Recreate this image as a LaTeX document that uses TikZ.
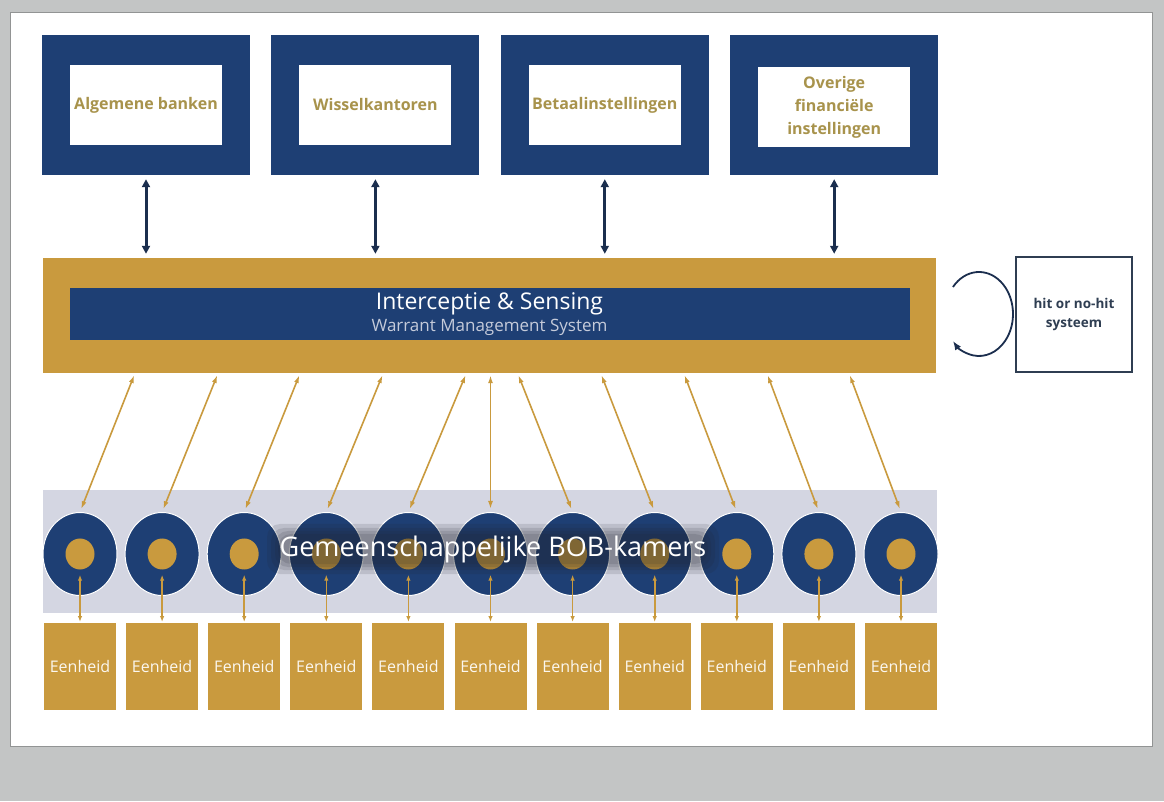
\documentclass[tikz,border=0pt]{standalone}
\usepackage{fontspec}
\setmainfont{Open Sans}
\usepackage{tikz}
\usetikzlibrary{arrows.meta, calc, positioning, shapes.geometric}
\definecolor{myblue}{HTML}{1E3F74}
\definecolor{mygold}{HTML}{C99A3E}
\definecolor{mytext}{HTML}{A8934C}
\definecolor{myband}{HTML}{D4D6E2}
\definecolor{myarrow}{HTML}{1B2E4E}
\definecolor{mylight}{HTML}{C5CBDA}
\definecolor{myhit}{HTML}{2F3E52}
\definecolor{mybg}{HTML}{C3C5C5}
\definecolor{myhalo}{HTML}{20232B}
\tikzset{ x=1pt, y=1pt, >=Latex,
  Bx/.style={fill=myblue, minimum width=208pt, minimum height=140pt, inner sep=0pt},
  Bi/.style={fill=white, minimum width=152pt, minimum height=80pt, inner sep=0pt, align=center, text=mytext, font=\bfseries\fontsize{16}{23}\selectfont},
  Ab/.style={draw=myarrow, line width=3pt, {Triangle[length=8pt,width=8pt]}-{Triangle[length=8pt,width=8pt]}, shorten <=4pt, shorten >=4pt},
  Ao/.style={draw=mygold, line width=1.6pt, {Latex[length=8pt,width=5pt]}-{Latex[length=8pt,width=5pt]}, shorten <=2pt, shorten >=3pt},
  As/.style={draw=mygold, line width=1.6pt, {Latex[length=6pt,width=4.5pt]}-{Latex[length=6pt,width=4.5pt]}, shorten <=5pt, shorten >=1pt},
  Lp/.style={draw=myarrow, line width=1.8pt, -{Latex[length=9pt,width=7pt]}},
  Ck/.style={ellipse, fill=myblue, draw=white, line width=1pt, minimum width=74pt, minimum height=83pt, inner sep=0pt},
  Cd/.style={ellipse, fill=mygold, minimum width=29pt, minimum height=31pt, inner sep=0pt},
  Ue/.style={fill=mygold, minimum width=72pt, minimum height=87pt, inner sep=0pt, text=white!92!mygold, font=\fontsize{16}{18}\selectfont},
  Bt/.style={text=white, font=\fontsize{27}{30}\selectfont, inner sep=0pt},
  Hl/.style={fill=myhalo, opacity=0.13, rounded corners=13pt} }
\def\myDx{82.1}

\begin{document}
\begin{tikzpicture}
\useasboundingbox (0,0) rectangle (1164,801);
\fill[mybg] (0,0) rectangle (1164,801);
\draw[mybg!75!black, line width=1pt, fill=white] (10,55) rectangle (1152,788);
% top row
\node[Bx] (b1) at (146,696) {};
\node[Bx, right=21pt of b1] (b2) {};
\node[Bx, right=21pt of b2] (b3) {};
\node[Bx, right=21pt of b3] (b4) {};
\node[Bi] (t1) at (b1.center) {Algemene banken};
\node[Bi] (t2) at (b2.center) {Wisselkantoren};
\node[Bi] (t3) at (b3.center) {Betaalinstellingen};
\node[Bi] (t4) at ([yshift=-2pt]b4.center) {Overige\\financiële\\instellingen};
% interception bar
\node[fill=mygold, minimum width=893pt, minimum height=115pt, inner sep=0pt] (bar) at (489.5,485.5) {};
\node[fill=myblue, minimum width=840pt, minimum height=52pt, inner sep=0pt, align=center, text=white] (wms) at ([yshift=1.5pt]bar.center)
  {{\fontsize{23}{26}\selectfont Interceptie \& Sensing}\\[3pt]{\color{mylight}\fontsize{17}{18}\selectfont Warrant Management System}};
\foreach \i in {1,...,4} \draw[Ab] (b\i.south) -- (b\i.south |- bar.north);
% hit box with loop
\node[draw=myhit, line width=1.5pt, minimum width=116pt, minimum height=115pt, align=center, text=myhit, font=\bfseries\fontsize{13.5}{19}\selectfont] (hit) at (1074,486.5) {hit or no-hit\\systeem};
\coordinate (loop) at (979,487);
\draw[Lp] ([shift={(140:34 and 42)}]loop) arc[start angle=140, end angle=-140, x radius=34, y radius=42];
% BOB rooms
\node[fill=myband, minimum width=894pt, minimum height=123pt, inner sep=0pt] (bob) at (490,249.5) {};
\foreach \i in {1,...,11} {
  \node[Ck] (c\i) at ({80+\myDx*(\i-1)},247) {};
  \node[Cd] (d\i) at (c\i.center) {};
  \node[Ue, below=27pt of c\i] (e\i) {Eenheid};
  \draw[As] (d\i.south) -- (e\i.north);
}
\foreach \i/\dx in {1/55,2/56,3/56,4/57,5/58,6/0,7/-55,8/-54,9/-53,10/-52,11/-52} {
  \coordinate (u\i) at ($(c\i.north)+(\dx,0)$);
  \draw[Ao] (u\i |- bar.south) -- (c\i.north);
}
\coordinate (bobc) at (493,252);
\foreach \w/\h in {452/50, 444/42, 436/36, 430/30}
  \fill[Hl] ($(bobc)+(-\w/2,-\h/2)$) rectangle ++(\w,\h);
\node[Bt] (bobt) at (bobc) {Gemeenschappelijke BOB-kamers};
\end{tikzpicture}
\end{document}
